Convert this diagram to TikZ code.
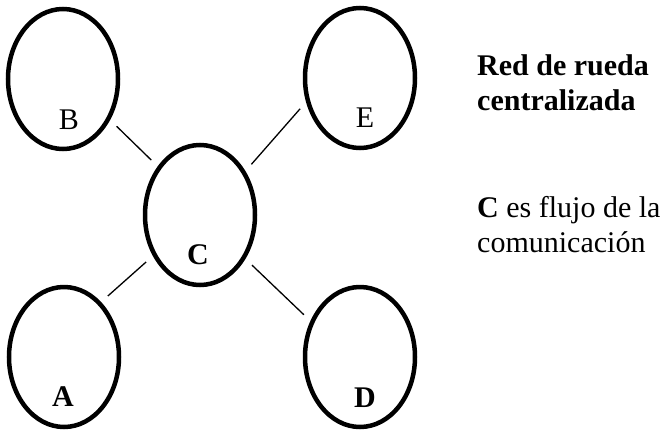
\documentclass[tikz,border=0pt]{standalone}
\usepackage{fontspec}
\setmainfont{Liberation Serif}
\usetikzlibrary{shapes.geometric}
\begin{document}
\begin{tikzpicture}[x=1pt, y=-1pt,
    member/.style={ellipse, draw, line width=4.5pt, minimum width=110pt, minimum height=140pt, inner sep=0pt},
    tag/.style={font=\fontsize{30}{35}\selectfont, inner sep=0pt},
    link/.style={line width=1.3pt, shorten <=9pt, shorten >=9pt}]
        \useasboundingbox (0,0) rectangle (670,429);

        % Ellipses (C in the middle)
        \node[member] (ellB) at (63,79) {};
        \node[member] (ellE) at (360,78) {};
        \node[member] (ellC) at (200,215) {};
        \node[member] (ellA) at (64,357) {};
        \node[member] (ellD) at (360,357) {};

        % Letters near the bottom of each ellipse
        \node[tag] (labB) at (69,120) {B};
        \node[tag] (labE) at (365,118) {E};
        \node[tag] (labC) at (198,255) {\textbf{C}};
        \node[tag] (labA) at (63,397) {\textbf{A}};
        \node[tag] (labD) at (365,398) {\textbf{D}};

        % Spokes from C, not touching the ellipses
        \draw[link] (ellB.-41) -- (ellC.131);
        \draw[link] (ellC.44) -- (ellE.204);
        \draw[link] (ellC.221) -- (ellA.56);
        \draw[link] (ellC.-44) -- (ellD.144);

        % Caption on the right (base = last line)
        \node[tag, anchor=base west, align=left] (title) at (477,110) {\textbf{Red de rueda}\\\textbf{centralizada}};
        \node[tag, anchor=base west, align=left] (note) at (477,252) {\textbf{C} es flujo de la\\comunicación};
\end{tikzpicture}
\end{document}
